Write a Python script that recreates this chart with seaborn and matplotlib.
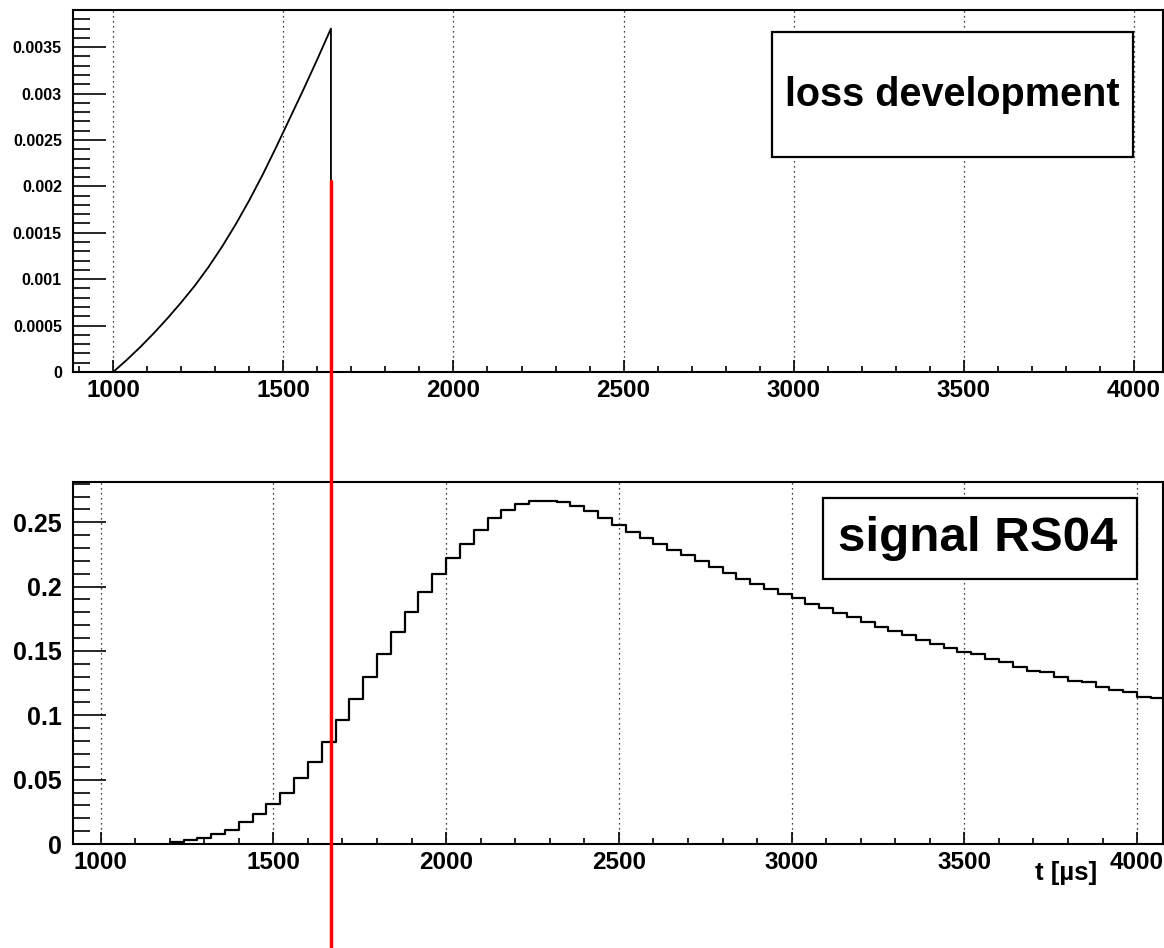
import numpy as np
import pandas as pd
import matplotlib
matplotlib.use("Agg")
import matplotlib.pyplot as plt
import matplotlib.transforms as mtransforms
from matplotlib.lines import Line2D
from matplotlib.patches import Rectangle
from matplotlib.ticker import MultipleLocator
import seaborn as sns

# ---- loss development (top panel) ----
loss_time = [1000, 1040, 1080, 1120, 1160, 1200, 1240, 1280, 1320,
             1360, 1400, 1440, 1480, 1520, 1560, 1600, 1640]
loss_value = [0.0, 0.00013, 0.00027, 0.00042, 0.00058, 0.00075, 0.00093,
              0.00113, 0.00135, 0.00159, 0.00185, 0.00213, 0.00243,
              0.00274, 0.00305, 0.00337, 0.00370]
loss_end = 1640          # time at which the loss stops
marker_top = 0.00206     # upper end of the red time marker

# ---- signal RS04 (bottom panel), 40 us bins ----
bin_width = 40
signal_bin_start = np.arange(1200, 4080, bin_width)
signal_value = [
    0.0013, 0.0030, 0.0044, 0.0075, 0.0110, 0.0173, 0.0230, 0.0310,
    0.0400, 0.0510, 0.0635, 0.0790, 0.0964, 0.1130, 0.1300, 0.1480,
    0.1645, 0.1800, 0.1956, 0.2098, 0.2220, 0.2329, 0.2438, 0.2531,
    0.2593, 0.2640, 0.2668, 0.2668, 0.2654, 0.2627, 0.2585, 0.2535,
    0.2480, 0.2428, 0.2376, 0.2329, 0.2285, 0.2245, 0.2200, 0.2151,
    0.2107, 0.2062, 0.2023, 0.1985, 0.1945, 0.1909, 0.1865, 0.1831,
    0.1797, 0.1762, 0.1728, 0.1689, 0.1658, 0.1624, 0.1588, 0.1554,
    0.1521, 0.1490, 0.1477, 0.1438, 0.1412, 0.1378, 0.1347, 0.1334,
    0.1300, 0.1269, 0.1257, 0.1222, 0.1197, 0.1184, 0.1140, 0.1132,
]

top_yticks = [0, 0.0005, 0.001, 0.0015, 0.002, 0.0025, 0.003, 0.0035]
top_ylabels = ["0", "0.0005", "0.001", "0.0015", "0.002", "0.0025", "0.003", "0.0035"]
bot_yticks = [0, 0.05, 0.1, 0.15, 0.2, 0.25]
bot_ylabels = ["0", "0.05", "0.1", "0.15", "0.2", "0.25"]

sns.set_style("white")
plt.rcParams["font.family"] = ["Liberation Sans", "DejaVu Sans"]
plt.rcParams["font.weight"] = "bold"
for key in ("text.color", "axes.labelcolor", "xtick.color", "ytick.color",
            "xtick.labelcolor", "ytick.labelcolor"):
    plt.rcParams[key] = "black"

W, H = 1164, 948
fig = plt.figure(figsize=(W / 100, H / 100), dpi=100)
ax_top = fig.add_axes([73 / W, 1 - 372 / H, 1090 / W, 362 / H])
ax_bot = fig.add_axes([73 / W, 1 - 844 / H, 1090 / W, 362 / H])

# top: loss curve with the drop back to zero at its end
loss_df = pd.DataFrame({"t": loss_time + [loss_end], "loss": loss_value + [0.0]})
sns.lineplot(data=loss_df, x="t", y="loss", ax=ax_top, color="black",
             lw=1.3, estimator=None, sort=False, zorder=3)

# bottom: binned detector signal
sig_df = pd.DataFrame({"t": signal_bin_start + bin_width / 2, "signal": signal_value})
sns.histplot(data=sig_df, x="t", weights="signal", binwidth=bin_width,
             binrange=(float(signal_bin_start[0]), float(signal_bin_start[-1] + bin_width)),
             element="step", fill=False, color="black", lw=1.6, ax=ax_bot, zorder=3)


def style_axes(ax, xlim, ylim, yticks, ylabels, ysize, xsize, minor_y, ylen):
    ax.set_xlim(*xlim)
    ax.set_ylim(*ylim)
    ax.xaxis.set_major_locator(MultipleLocator(500))
    ax.xaxis.set_minor_locator(MultipleLocator(100))
    ax.set_yticks(yticks)
    ax.set_yticklabels(ylabels)
    ax.yaxis.set_minor_locator(MultipleLocator(minor_y))
    ax.tick_params(axis="both", which="both", direction="in",
                   top=False, right=False, bottom=True, left=True,
                   color="black", labelcolor="black")
    ax.tick_params(axis="y", which="major", length=ylen, width=1.2,
                   labelsize=ysize, pad=8)
    ax.tick_params(axis="y", which="minor", length=ylen / 2, width=1.2)
    ax.tick_params(axis="x", which="major", length=8.5, width=1.2,
                   labelsize=xsize, pad=5)
    ax.tick_params(axis="x", which="minor", length=4.3, width=1.2)
    for lab in ax.get_xticklabels() + ax.get_yticklabels():
        lab.set_fontweight("bold")
    for s in ax.spines.values():
        s.set_visible(True)
        s.set_color("black")
        s.set_linewidth(1.5)
    ax.grid(True, axis="x", which="major", color="black",
            linestyle=(0, (1, 3)), linewidth=0.9)
    ax.grid(False, axis="y")
    ax.set_xlabel("")
    ax.set_ylabel("")


style_axes(ax_top, (882, 4085), (0, 0.0039), top_yticks, top_ylabels,
           11.5, 17.5, 0.0001, 24)
style_axes(ax_bot, (920, 4075), (0, 0.2813), bot_yticks, bot_ylabels,
           18, 17.5, 0.01, 24)

# title boxes
ax_top.add_patch(Rectangle((0.641, 0.593), 0.3317, 0.347, transform=ax_top.transAxes,
                           facecolor="white", edgecolor="black", lw=1.6, zorder=5))
ax_top.text(0.8067, 0.7665, "loss development", transform=ax_top.transAxes,
            ha="center", va="center", fontsize=28.5, fontweight="bold",
            color="black", zorder=6)

ax_bot.add_patch(Rectangle((0.6878, 0.732), 0.2881, 0.223, transform=ax_bot.transAxes,
                           facecolor="white", edgecolor="black", lw=1.6, zorder=5))
ax_bot.text(0.8300, 0.8435, "signal RS04", transform=ax_bot.transAxes,
            ha="center", va="center", fontsize=35.5, fontweight="bold",
            color="black", zorder=6)

ax_bot.set_xlabel("t [µs]", fontsize=18.5, fontweight="bold", ha="right", color="black")
ax_bot.xaxis.set_label_coords(0.9394, -0.046)

# red time marker at the end of the loss, running down through both panels
y_start = fig.transFigure.inverted().transform(
    ax_top.transData.transform((loss_end, marker_top)))[1]
trans = mtransforms.blended_transform_factory(ax_top.transData, fig.transFigure)
fig.add_artist(Line2D([loss_end, loss_end], [y_start, 0.0], transform=trans,
                      color="#ff0000", lw=2.5, zorder=10))

fig.savefig("out.png", dpi=100, facecolor="white")
